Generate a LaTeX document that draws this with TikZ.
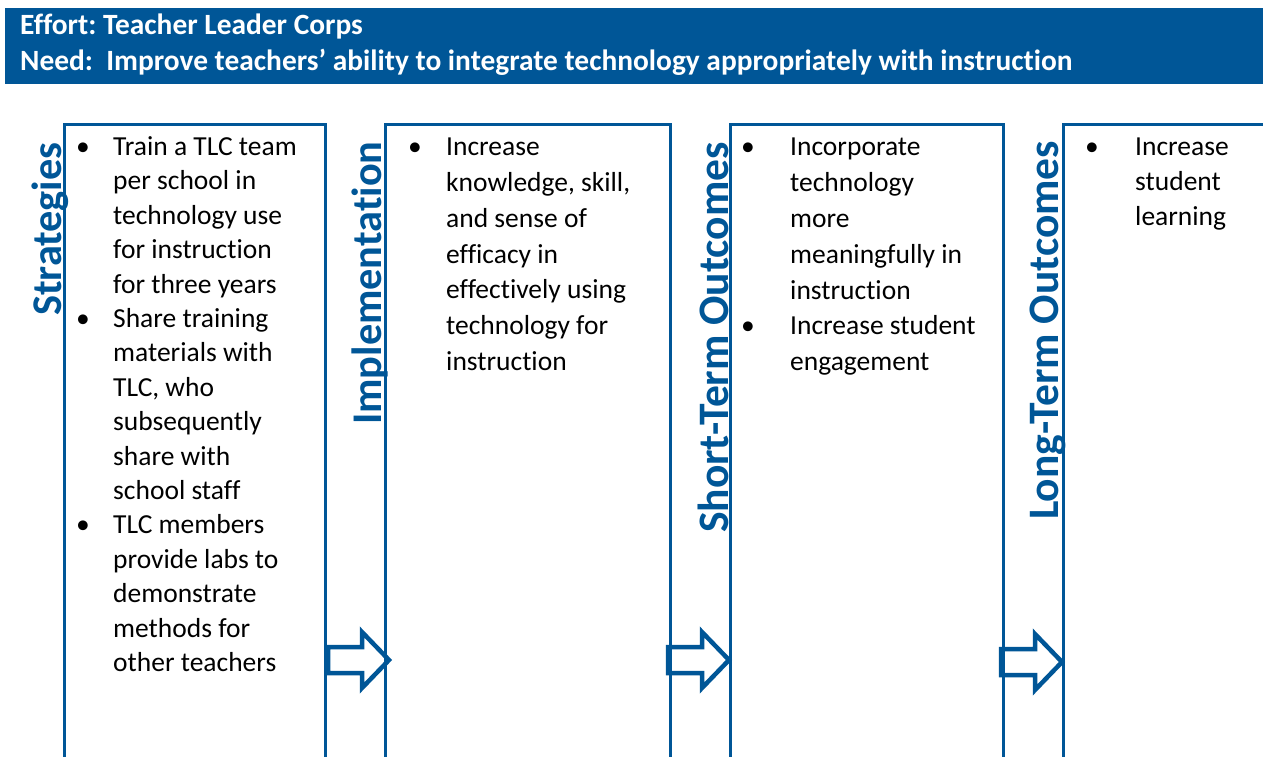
\documentclass[tikz,border=0pt]{standalone}
\usepackage{fontspec}
\setmainfont{Carlito}[Ligatures=NoCommon, Contextuals=NoAlternate]
\usepackage{array}
\frenchspacing
\definecolor{tlcblue}{RGB}{0,86,151}
\tikzset{
  x=1pt, y=-1pt,
  boxline/.style={draw=tlcblue, line width=3pt},
  blockarr/.style={draw=tlcblue, fill=white, line width=4.5pt, line join=miter},
  vlabel/.style={rotate=90, anchor=base west, inner sep=0pt, text=tlcblue,
    font=\fontsize{43.5}{50}\selectfont\bfseries},
  vlabelsm/.style={vlabel, font=\fontsize{42.3}{50}\selectfont\bfseries},
  headtxt/.style={anchor=base west, inner sep=0pt, text=white,
    font=\fontsize{29.4}{34}\selectfont\bfseries},
  bodytxt/.style={anchor=base west, inner sep=0pt, align=left},
}
\newcommand{\blkarrow}[1]{%
  \draw[blockarr] (#1) -- ++(0,-13) -- ++(34,0) -- ++(0,-15) -- ++(27,28)
    -- ++(-27,28) -- ++(0,-15) -- ++(-34,0) -- cycle;}
\begin{document}
\begin{tikzpicture}
\useasboundingbox (0,0) rectangle (1263,757);
% header
\node[fill=tlcblue, minimum width=1258pt, minimum height=76pt, anchor=north west, inner sep=0pt] (hdr) at (5,8) {};
\node[headtxt] (effort) at (20,35) {Effort: Teacher Leader Corps};
\node[headtxt] (need) at (20,71) {Need:\ \ Improve teachers’ ability to integrate technology appropriately with instruction};
% arrows (drawn under the box lines)
\coordinate (a1) at (328,660);
\coordinate (a2) at (668,660);
\coordinate (a3) at (1001,662);
\blkarrow{a1}
\blkarrow{a2}
\blkarrow{a3}
% boxes
\draw[boxline] (64,760) -- (64,125) -- (325,125) -- (325,760);
\draw[boxline] (385,760) -- (385,125) -- (670,125) -- (670,760);
\draw[boxline] (730,760) -- (730,125) -- (1003,125) -- (1003,760);
\draw[boxline] (1063,760) -- (1063,125) -- (1266,125);
% vertical labels
\node[vlabelsm] (lstrat) at (61,316) {Strategies};
\node[vlabelsm] (limpl) at (381,425) {Implementation};
\node[vlabel] (lshort) at (728,533) {Short-Term Outcomes};
\node[vlabel] (llong) at (1058,520) {Long-Term Outcomes};
% box texts
\node[bodytxt] (t1) at (76,155.5) {\fontsize{27.5}{34.4}\selectfont
\begin{tabular}[t]{@{}p{37pt}@{}l@{}}
\textbullet & Train a TLC team\\
 & per school in\\
 & technology use\\
 & for instruction\\
 & for three years\\
\textbullet & Share training\\
 & materials with\\
 & TLC, who\\
 & subsequently\\
 & share with\\
 & school staff\\
\textbullet & TLC members\\
 & provide labs to\\
 & demonstrate\\
 & methods for\\
 & other teachers
\end{tabular}};
\node[bodytxt] (t2) at (408,156) {\fontsize{27.5}{35.7}\selectfont
\begin{tabular}[t]{@{}p{38pt}@{}l@{}}
\textbullet & Increase\\
 & knowledge, skill,\\
 & and sense of\\
 & efficacy in\\
 & effectively using\\
 & technology for\\
 & instruction
\end{tabular}};
\node[bodytxt] (t3) at (741,156) {\fontsize{27.5}{35.8}\selectfont
\begin{tabular}[t]{@{}p{49pt}@{}l@{}}
\textbullet & Incorporate\\
 & technology\\
 & more\\
 & meaningfully in\\
 & instruction\\
\textbullet & Increase student\\
 & engagement
\end{tabular}};
\node[bodytxt] (t4) at (1085,156) {\fontsize{27.5}{35}\selectfont
\begin{tabular}[t]{@{}p{50pt}@{}l@{}}
\textbullet & Increase\\
 & student\\
 & learning
\end{tabular}};
\end{tikzpicture}
\end{document}
